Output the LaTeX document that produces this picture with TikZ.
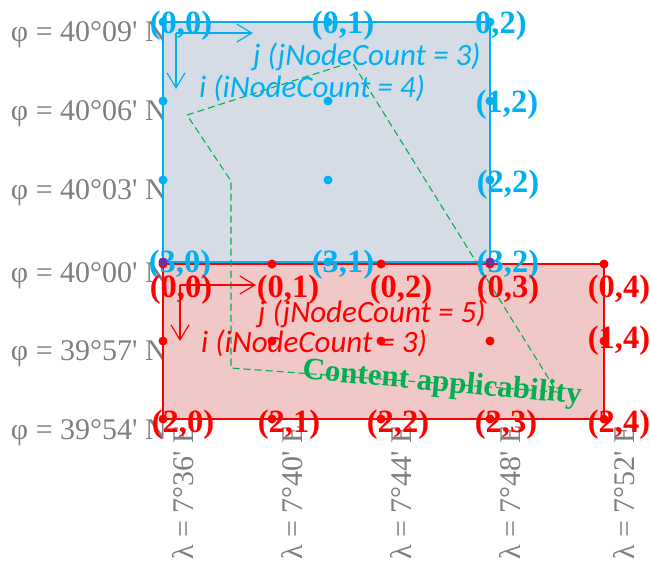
\documentclass[tikz,border=0pt]{standalone}
\usepackage{fontspec}
\setmainfont{Liberation Serif}
\newfontfamily\calib{Carlito}
\usetikzlibrary{arrows.meta}
\definecolor{cblue}{RGB}{0,176,240}
\definecolor{cbluefill}{RGB}{214,220,229}
\definecolor{cred}{RGB}{255,0,0}
\definecolor{credfill}{RGB}{240,200,200}
\definecolor{cgray}{RGB}{127,127,127}
\definecolor{cgreen}{RGB}{0,176,80}
\definecolor{cpurple}{RGB}{112,48,160}
\begin{document}
\begin{tikzpicture}[x=1pt,y=-1pt,
  lat/.style={anchor=base east, text=cgray, inner sep=0, font=\fontsize{30}{32}\selectfont},
  lon/.style={anchor=east, rotate=90, text=cgray, inner sep=0, font=\fontsize{30}{32}\selectfont},
  bl/.style={anchor=base, text=cblue, inner sep=0, font=\bfseries\fontsize{32.5}{34}\selectfont},
  rl/.style={anchor=base, text=cred, inner sep=0, font=\bfseries\fontsize{32.5}{34}\selectfont},
  itl/.style={anchor=base west, inner sep=0, font=\calib\itshape\fontsize{31}{33}\selectfont},
  bdot/.style={circle, fill=cblue, inner sep=0, minimum size=9},
  rdot/.style={circle, fill=cred, inner sep=0, minimum size=9},
  pdot/.style={circle, fill=cpurple, inner sep=0, minimum size=9},
  axarrow/.style={line width=1.2, -{Straight Barb[length=15pt,width=18pt,line width=1.2pt]}},
  region/.style={line width=1.6},
  applic/.style={draw=cgreen, line width=1.1, dash pattern=on 7pt off 4pt}
]
\useasboundingbox (0,0) rectangle (650,563);

% latitude labels
\node[lat] (la1) at (167,41.5) {φ = 40°09\textquotesingle{} N};
\node[lat] (la2) at (167,120.5) {φ = 40°06\textquotesingle{} N};
\node[lat] (la3) at (167,199.5) {φ = 40°03\textquotesingle{} N};
\node[lat] (la4) at (167,282) {φ = 40°00\textquotesingle{} N};
\node[lat] (la5) at (167,360) {φ = 39°57\textquotesingle{} N};
\node[lat] (la6) at (167,439) {φ = 39°54\textquotesingle{} N};

% longitude labels
\node[lon] (lo1) at (183,425) {λ = 7°36\textquotesingle{} E};
\node[lon] (lo2) at (292,425) {λ = 7°40\textquotesingle{} E};
\node[lon] (lo3) at (401,425) {λ = 7°44\textquotesingle{} E};
\node[lon] (lo4) at (510,425) {λ = 7°48\textquotesingle{} E};
\node[lon] (lo5) at (624,425) {λ = 7°52\textquotesingle{} E};

% regions
\coordinate (rTL) at (163,264);
\coordinate (rBR) at (604,419);
\coordinate (bTL) at (163,22);
\coordinate (bBR) at (490,262);
\draw[region, draw=cred, fill=credfill] (rTL) rectangle (rBR);
\draw[region, draw=cblue, fill=cbluefill] (bTL) rectangle (bBR);

% content applicability polygon
\coordinate (g1) at (187,115);
\coordinate (g2) at (352,62);
\coordinate (g3) at (557,392);
\coordinate (g4) at (231,368);
\coordinate (g5) at (231,181);
\draw[applic] (g1) -- (g2) -- (g3) -- (g4) -- (g5) -- cycle;

% blue labels
\node[bl] (bl00) at (181,33) {(0,0)};
\node[bl] (bl01) at (343,33) {(0,1)};
\node[bl, anchor=base west] (bl02) at (475,33) {0,2)};
\node[bl] (bl12) at (507,112) {(1,2)};
\node[bl] (bl22) at (508,192) {(2,2)};
\node[bl] (bl30) at (180,272) {(3,0)};
\node[bl] (bl31) at (343,272) {(3,1)};
\node[bl] (bl32) at (508,272) {(3,2)};

% red labels
\node[rl] (rl00) at (181,297) {(0,0)};
\node[rl] (rl01) at (288,297) {(0,1)};
\node[rl] (rl02) at (401,297) {(0,2)};
\node[rl] (rl03) at (508,297) {(0,3)};
\node[rl] (rl04) at (619,297) {(0,4)};
\node[rl] (rl14) at (619,348) {(1,4)};
\node[rl] (rl20) at (183,432) {(2,0)};
\node[rl] (rl21) at (289,432) {(2,1)};
\node[rl] (rl22) at (398,432) {(2,2)};
\node[rl] (rl23) at (506,432) {(2,3)};
\node[rl] (rl24) at (619,432) {(2,4)};

% grid dots
\foreach \i/\yy in {0/22,1/101,2/180,3/262}
  \foreach \j/\xx in {0/163,1/328,2/490}
    \node[bdot] (b\i\j) at (\xx,\yy) {};
\foreach \i/\yy in {0/264,1/341,2/419}
  \foreach \j/\xx in {0/163,1/272,2/381,3/490,4/604}
    \node[rdot] (r\i\j) at (\xx,\yy) {};
\node[pdot] (p30) at (163,262) {};
\node[pdot] (p32) at (490,262) {};

% axes
\coordinate (bO) at (176,33);
\coordinate (bJ) at (253,33);
\coordinate (bI) at (176,89);
\draw[axarrow, cblue] (bO) -- (bJ);
\draw[axarrow, cblue] (bO) -- (bI);
\coordinate (rO) at (180,285);
\coordinate (rJ) at (256,285);
\coordinate (rI) at (180,341);
\draw[axarrow, cred] (rO) -- (rJ);
\draw[axarrow, cred] (rO) -- (rI);

% italic captions
\node[itl, text=cblue] (bj) at (253,65) {j (jNodeCount = 3)};
\node[itl, text=cblue] (bi) at (199,97) {i (iNodeCount = 4)};
\node[itl, text=cred] (rj) at (258,322) {j (jNodeCount = 5)};
\node[itl, text=cred] (ri) at (201,352) {i (iNodeCount = 3)};

% content applicability label
\node[text=cgreen, rotate=-5.2, inner sep=0, font=\bfseries\fontsize{31}{33}\selectfont] (ca) at (442,384) {Content applicability};
\end{tikzpicture}
\end{document}
